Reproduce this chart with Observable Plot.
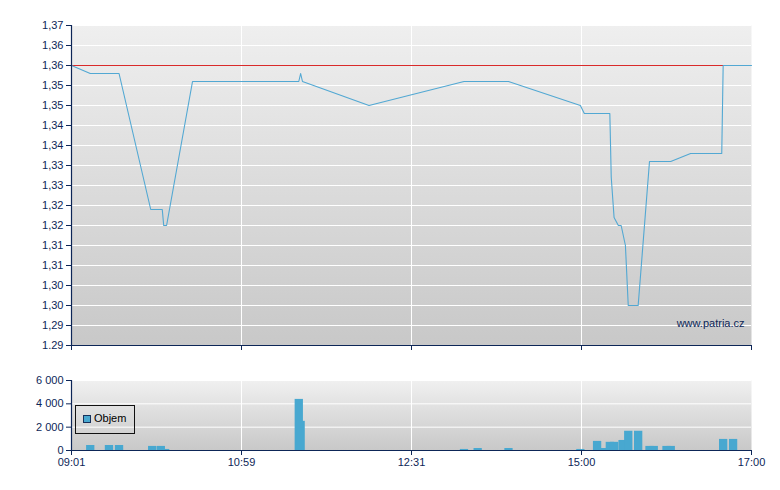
<!DOCTYPE html>
<html>
<head>
<meta charset="utf-8">
<script src="https://cdn.jsdelivr.net/npm/d3@7"></script>
<script src="https://cdn.jsdelivr.net/npm/@observablehq/plot@0.6"></script>
<style>
  html, body { margin: 0; padding: 0; background: #fff; }
  #wrap { position: relative; width: 780px; height: 490px; font-family: "Liberation Sans", Arial, sans-serif; }
  #wrap svg { display: block; }
  #legend { position: absolute; left: 75px; top: 405px; width: 58px; height: 27px; border: 1px solid #111; font-size: 11px; color: #000; }
  #legend .sw { position: absolute; left: 7px; top: 9px; width: 6px; height: 6px; background: #48a8d0; border: 1px solid #17305a; }
  #legend .lb { position: absolute; left: 18px; top: 5px; line-height: 14px; }
</style>
</head>
<body>
<div id="wrap">
  <div id="priceBox"></div>
  <div id="volBox"></div>
  <div id="legend"><span class="sw"></span><span class="lb"></span></div>
</div>
<script>
// ---- data ----
const xTickTimes = ["09:01", "10:59", "12:31", "15:00", "17:00"];

const yTicks = [1.29, 1.295, 1.30, 1.305, 1.31, 1.315, 1.32, 1.325, 1.33, 1.335, 1.34, 1.345, 1.35, 1.355, 1.36, 1.365, 1.37];
const yTickLabels = ["1.29", "1,29", "1,30", "1,30", "1,31", "1,31", "1,32", "1,32", "1,33", "1,33", "1,34", "1,34", "1,35", "1,35", "1,36", "1,36", "1,37"];

const volTicks = [0, 2000, 4000, 6000];
const volTickLabels = ["0", "2 000", "4 000", "6 000"];

const prevClose = 1.36;

const priceTimes = ["09:01","09:14","09:34","09:56","10:04","10:05","10:07","10:25","11:30","11:31","11:32","12:08","13:17","13:56","14:59","15:02","15:20","15:21","15:23","15:26","15:28","15:31","15:33","15:40","15:48","16:03","16:17","16:39","16:40","17:00"];
const priceValues = [1.360,1.358,1.358,1.324,1.324,1.320,1.320,1.356,1.356,1.358,1.356,1.350,1.356,1.356,1.350,1.348,1.348,1.332,1.322,1.320,1.320,1.315,1.300,1.300,1.336,1.336,1.338,1.338,1.360,1.360];

const volTimes = ["09:14","09:27","09:34","09:57","10:03","10:06","11:30","11:31","13:17","13:29","13:56","14:59","15:11","15:15","15:20","15:23","15:29","15:33","15:40","15:48","15:51","16:00","16:03","16:40","16:47"];
const volValues = [430,430,430,350,350,90,4380,2500,90,170,170,90,780,170,700,700,860,1650,1650,350,350,350,350,950,950];

const legendLabel = "Objem";
const watermark = "www.patria.cz";

// ---- helpers ----
const toMin = s => { const [h, m] = s.split(":").map(Number); return h * 60 + m; };
const xTickMin = xTickTimes.map(toMin);
const price = priceTimes.map((t, i) => ({t: toMin(t), v: priceValues[i]}));
const volume = volTimes.map((t, i) => ({t: toMin(t), v: volValues[i]}));

const W = 780, ML = 71, MR = 29;
const xRange = xTickMin.map((_, i) => ML + i * (W - ML - MR) / (xTickMin.length - 1));
const navy = "#0d2657";
const white = "#ffffff";
const chartStyle = {fontFamily: "'Liberation Sans', Arial, sans-serif", fontSize: "11px", color: navy, background: "#fff", overflow: "visible"};
const xScale = () => ({type: "linear", domain: xTickMin, range: xRange, label: null, axis: null});
const fmtFrom = (ticks, labels) => d => { const i = ticks.findIndex(t => Math.abs(t - d) < 1e-9); return i < 0 ? "" : labels[i]; };

function addGradient(svg, id, c0, c1) {
  const defs = d3.select(svg).insert("defs", ":first-child");
  const g = defs.append("linearGradient").attr("id", id).attr("x1", 0).attr("y1", 0).attr("x2", 0).attr("y2", 1);
  g.append("stop").attr("offset", "0%").attr("stop-color", c0);
  g.append("stop").attr("offset", "100%").attr("stop-color", c1);
}

// ---- price chart ----
const priceChart = Plot.plot({
  width: W, height: 360,
  marginTop: 25, marginBottom: 15, marginLeft: ML, marginRight: MR,
  style: chartStyle,
  x: xScale(),
  y: {domain: [yTicks[0], yTicks[yTicks.length - 1]], label: null, axis: null},
  marks: [
    Plot.frame({fill: "url(#gTop)", stroke: null}),
    Plot.gridY(yTicks, {stroke: white, strokeOpacity: 1}),
    Plot.gridX(xTickMin.slice(1, -1), {stroke: white, strokeOpacity: 1}),
    Plot.ruleY([prevClose], {stroke: "#d92a2a", strokeWidth: 1}),
    Plot.line(price, {x: "t", y: "v", stroke: "#52a8d3", strokeWidth: 1.1}),
    Plot.text([watermark], {frameAnchor: "bottom-right", textAnchor: "end", lineAnchor: "middle", dx: -7, dy: -22, fill: navy, fontSize: 11}),
    Plot.axisY(yTicks, {tickFormat: fmtFrom(yTicks, yTickLabels), tickSize: 5, tickPadding: 3, stroke: navy, fill: navy, label: null}),
    Plot.axisX(xTickMin, {tickFormat: () => "", tickSize: 5, stroke: navy, label: null}),
    Plot.ruleX([xTickMin[0]], {stroke: navy, strokeWidth: 1.2}),
    Plot.ruleY([yTicks[0]], {stroke: navy, strokeWidth: 1.2})
  ]
});
addGradient(priceChart, "gTop", "#efefef", "#c8c8c8");
document.getElementById("priceBox").appendChild(priceChart);

// ---- volume chart ----
const volChart = Plot.plot({
  width: W, height: 130,
  marginTop: 20, marginBottom: 40, marginLeft: ML, marginRight: MR,
  style: chartStyle,
  x: xScale(),
  y: {domain: [volTicks[0], volTicks[volTicks.length - 1]], label: null, axis: null},
  marks: [
    Plot.frame({fill: "url(#gVol)", stroke: null}),
    Plot.gridY(volTicks, {stroke: white, strokeOpacity: 1}),
    Plot.gridX(xTickMin.slice(1, -1), {stroke: white, strokeOpacity: 1}),
    Plot.ruleX(volume, {x: "t", y1: 0, y2: "v", stroke: "#48a8d0", strokeWidth: 8.3, strokeLinecap: "butt"}),
    Plot.axisY(volTicks, {tickFormat: fmtFrom(volTicks, volTickLabels), tickSize: 5, tickPadding: 3, stroke: navy, fill: navy, label: null}),
    Plot.axisX(xTickMin, {tickFormat: fmtFrom(xTickMin, xTickTimes), tickSize: 5, tickPadding: 3, stroke: navy, fill: navy, label: null}),
    Plot.ruleX([xTickMin[0]], {stroke: navy, strokeWidth: 1.2}),
    Plot.ruleY([volTicks[0]], {stroke: navy, strokeWidth: 1.2})
  ]
});
addGradient(volChart, "gVol", "#f0f0f0", "#c8c8c8");
document.getElementById("volBox").appendChild(volChart);
document.querySelector("#legend .lb").textContent = legendLabel;
</script>
</body>
</html>
